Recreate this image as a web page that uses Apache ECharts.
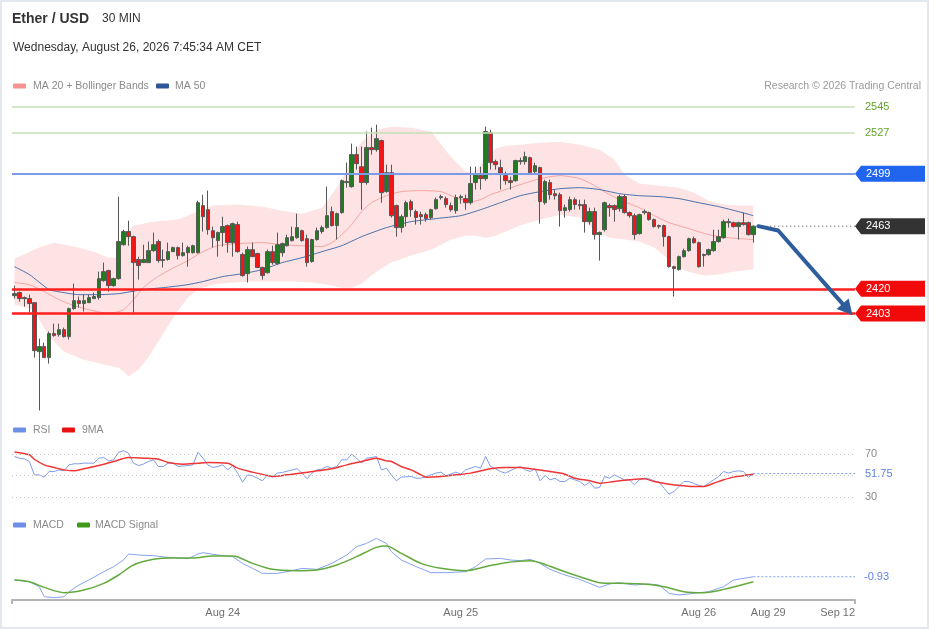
<!DOCTYPE html>
<html>
<head>
<meta charset="utf-8">
<script src="https://cdn.jsdelivr.net/npm/echarts@6/dist/echarts.min.js"></script>
<style>
html,body{margin:0;padding:0;background:#fff;}
#c{width:929px;height:629px;}
</style>
</head>
<body>
<div id="c"></div>
<script>
// ---------------- DATA ----------------
// 30-min candles: [open, close, low, high]
const candles = [
[2415.3,2416.7,2413.3,2422.2],[2417.4,2413.3,2411.2,2418.1],[2414.0,2413.3,2407.8,2414.7],[2413.3,2409.9,2403.7,2416.0],
[2410.5,2377.6,2372.8,2410.8],[2376.9,2380.4,2336.5,2385.8],[2380.4,2372.8,2372.5,2383.1],[2372.8,2389.3,2368.7,2390.7],
[2389.3,2387.9,2387.2,2396.1],[2388.6,2392.0,2387.2,2396.1],[2392.0,2387.2,2386.5,2393.4],[2387.2,2406.4,2385.2,2407.1],
[2406.4,2411.9,2405.7,2423.6],[2411.9,2409.9,2407.1,2414.7],[2409.9,2411.9,2404.4,2416.0],[2410.5,2414.0,2410.3,2416.0],
[2413.3,2414.7,2413.0,2417.4],[2414.0,2427.0,2412.6,2431.8],[2425.6,2431.8,2424.9,2438.0],[2432.5,2422.2,2418.1,2433.2],
[2422.2,2427.0,2421.5,2427.7],[2427.0,2452.4,2426.3,2483.3],[2450.3,2459.3,2449.6,2460.6],[2459.3,2455.8,2449.6,2466.8],
[2455.8,2438.0,2403.7,2456.5],[2440.1,2436.0,2426.3,2442.1],[2438.0,2440.1,2437.8,2450.3],[2438.0,2446.2,2437.8,2452.4],
[2446.2,2450.3,2445.5,2458.6],[2452.4,2439.4,2438.0,2453.8],[2440.1,2439.4,2434.6,2446.9],[2440.1,2445.5,2439.4,2451.7],
[2445.5,2448.3,2445.3,2449.0],[2448.3,2442.8,2440.1,2449.0],[2442.8,2444.8,2442.1,2451.7],[2444.8,2448.3,2435.2,2449.6],
[2444.8,2449.6,2444.2,2450.3],[2444.8,2479.1,2444.2,2480.5],[2477.1,2469.5,2459.3,2484.6],[2474.3,2460.6,2457.2,2487.4],
[2459.9,2455.1,2448.3,2462.7],[2453.1,2458.6,2442.1,2459.3],[2458.6,2462.7,2449.0,2469.5],[2463.4,2451.7,2444.8,2464.1],
[2451.7,2464.7,2442.1,2465.4],[2464.1,2445.5,2444.8,2466.1],[2443.5,2429.1,2428.4,2444.8],[2430.4,2446.9,2424.3,2449.0],
[2446.9,2442.1,2441.9,2451.7],[2444.2,2434.6,2434.4,2444.8],[2434.6,2429.1,2426.3,2435.2],[2431.1,2445.5,2430.4,2446.9],
[2445.5,2438.0,2436.6,2449.6],[2437.3,2450.3,2436.6,2458.6],[2444.8,2451.0,2442.1,2451.7],[2449.6,2455.1,2449.0,2457.2],
[2453.1,2455.8,2452.4,2462.7],[2455.1,2462.0,2454.4,2471.6],[2459.9,2453.1,2452.4,2460.6],[2454.4,2438.0,2435.2,2457.2],
[2438.7,2453.8,2438.0,2454.4],[2453.8,2459.9,2453.1,2462.0],[2459.3,2462.0,2457.9,2463.4],[2462.0,2470.2,2461.3,2490.1],
[2473.0,2463.4,2462.7,2476.4],[2463.4,2471.6,2453.8,2472.3],[2472.3,2494.2,2471.6,2495.0],[2492.9,2493.6,2489.4,2506.6],
[2490.1,2512.1,2489.4,2519.6],[2512.1,2505.9,2501.8,2517.6],[2503.8,2492.9,2474.3,2517.6],[2492.9,2516.9,2491.5,2527.9],
[2516.9,2515.5,2512.1,2530.6],[2515.5,2523.0,2514.1,2532.7],[2521.7,2486.0,2479.1,2522.4],[2486.7,2499.7,2486.0,2505.2],
[2499.7,2470.2,2468.9,2505.2],[2477.1,2462.0,2455.8,2477.8],[2462.0,2469.5,2458.6,2470.9],[2469.5,2479.1,2462.7,2480.5],
[2479.8,2474.3,2469.5,2481.2],[2473.0,2468.9,2464.1,2474.3],[2470.9,2469.5,2464.1,2473.0],[2470.9,2468.2,2466.1,2472.3],
[2468.9,2474.3,2467.5,2475.0],[2475.0,2481.2,2474.3,2482.6],[2483.3,2482.6,2481.2,2484.6],[2481.9,2477.8,2475.7,2483.3],
[2477.1,2474.3,2472.9,2479.1],[2473.7,2482.6,2471.6,2484.6],[2482.6,2483.3,2478.4,2484.6],[2481.9,2479.1,2474.3,2484.6],
[2479.1,2492.2,2477.8,2503.8],[2492.9,2499.0,2488.1,2503.8],[2497.7,2495.6,2488.1,2503.8],[2495.6,2527.9,2494.2,2531.3],
[2527.2,2506.6,2501.8,2529.2],[2507.3,2505.2,2501.8,2508.6],[2503.2,2499.0,2488.1,2508.6],[2497.7,2494.2,2491.5,2500.4],
[2494.2,2492.9,2488.1,2497.0],[2494.2,2508.0,2493.5,2508.6],[2507.3,2508.0,2505.2,2510.0],[2507.3,2510.7,2505.2,2514.1],
[2510.0,2499.7,2498.4,2510.7],[2500.4,2504.5,2498.4,2506.6],[2503.2,2479.8,2464.7,2503.8],[2479.1,2493.6,2477.8,2494.9],
[2492.9,2484.6,2481.2,2494.9],[2485.3,2483.9,2481.2,2488.1],[2484.6,2473.7,2462.7,2486.0],[2473.7,2475.7,2468.9,2477.8],
[2474.4,2481.2,2473.0,2483.3],[2481.2,2477.8,2474.4,2482.6],[2477.8,2477.1,2474.4,2481.2],[2477.8,2466.1,2458.6,2481.2],
[2466.1,2473.0,2464.1,2475.7],[2473.0,2457.2,2453.8,2475.7],[2457.2,2458.6,2439.4,2459.3],[2460.6,2479.1,2459.3,2479.8],
[2477.1,2475.7,2469.5,2478.4],[2477.1,2474.4,2466.1,2477.8],[2475.0,2483.3,2473.0,2484.6],[2483.3,2472.3,2471.6,2484.6],
[2472.3,2470.2,2468.9,2473.0],[2470.2,2457.2,2453.8,2471.6],[2457.9,2470.9,2457.2,2471.6],[2472.3,2473.0,2470.9,2474.4],
[2472.3,2467.5,2466.8,2473.0],[2467.5,2462.7,2462.0,2468.2],[2463.4,2462.7,2461.3,2464.1],[2463.4,2455.8,2449.0,2464.1],
[2455.8,2435.2,2434.6,2456.5],[2435.2,2433.9,2414.7,2435.9],[2433.2,2442.1,2432.5,2442.8],[2442.1,2446.2,2441.4,2447.6],
[2446.2,2454.4,2445.5,2455.1],[2454.4,2451.7,2451.0,2455.8],[2451.7,2435.2,2434.6,2452.4],[2443.5,2442.8,2435.2,2444.2],
[2443.5,2446.9,2442.8,2447.6],[2446.2,2452.4,2445.5,2460.6],[2452.4,2455.8,2451.7,2460.6],[2455.1,2466.1,2454.4,2467.5],
[2466.1,2465.4,2462.0,2468.2],[2465.4,2462.7,2462.0,2466.1],[2462.7,2465.4,2453.8,2466.1],[2465.4,2464.1,2463.4,2472.3],
[2465.4,2457.2,2456.5,2466.1],[2457.2,2463.0,2451.7,2463.4]
];

// Bollinger upper band (candle index, value)
const upperIdx = [0,5,8,12,16,19,21,22,24,28,33,37,40,45,50,55,58,62,64,66,68,70,73,76,80,84,88,91,93,95,97,99,102,106,110,114,118,121,123,126,130,134,137,140,143,146,149];
const upperVal = [2440.7,2448.3,2451.7,2449.0,2445.5,2441.4,2441.4,2455.1,2463.4,2466.1,2467.5,2473.0,2477.1,2477.8,2476.4,2473.0,2471.6,2475.7,2484.6,2494.9,2508.6,2521.0,2529.2,2531.3,2530.6,2527.8,2510.7,2500.4,2500.4,2510.0,2516.2,2518.2,2518.9,2520.3,2521.0,2518.9,2515.5,2508.6,2498.4,2492.2,2490.8,2489.4,2486.0,2480.5,2477.8,2477.1,2477.1];
// Bollinger lower band
const lowerIdx = [0,4,5,7,10,14,18,21,22,23,25,27,29,31,33,35,37,40,44,48,52,56,60,63,66,68,70,73,76,80,84,88,91,93,95,97,99,102,106,110,114,117,120,123,126,129,131,133,136,139,142,145,149];
const lowerVal = [2409.2,2405.7,2398.9,2387.2,2376.9,2371.4,2368.0,2365.9,2363.2,2359.8,2364.6,2372.8,2383.8,2394.8,2405.1,2414.0,2419.5,2422.9,2424.3,2425.0,2425.0,2425.0,2424.3,2422.9,2420.8,2420.8,2423.6,2431.8,2438.0,2442.8,2446.9,2453.8,2456.5,2456.5,2455.1,2456.5,2459.2,2463.4,2467.5,2470.9,2468.9,2460.6,2455.1,2453.8,2452.4,2448.3,2442.8,2435.9,2431.8,2429.1,2429.8,2431.8,2433.2];
// MA 20
const ma20Idx = [0,3,6,9,12,15,18,20,22,24,26,28,31,35,38,41,45,50,54,58,62,64,66,68,70,72,75,78,82,86,89,92,94,96,99,102,106,110,114,117,120,123,126,129,132,136,140,144,149];
const ma20Val = [2424.3,2422.9,2418.1,2412.6,2408.5,2405.7,2403.7,2403.7,2405.7,2412.6,2420.8,2426.3,2432.5,2439.4,2445.5,2449.6,2451.0,2451.7,2450.3,2449.6,2449.0,2451.7,2457.2,2464.1,2473.0,2479.1,2483.9,2486.7,2487.4,2486.7,2482.6,2479.8,2481.2,2484.6,2488.1,2491.5,2495.6,2497.7,2495.6,2490.8,2484.6,2479.8,2475.7,2470.2,2465.4,2461.3,2457.2,2455.1,2453.8];
// MA 50
const ma50Idx = [0,3,7,10,13,17,21,26,30,35,38,42,46,50,54,58,62,66,70,75,80,85,90,94,98,102,106,110,114,118,122,126,130,134,138,142,146,149];
const ma50Val = [2435.2,2429.8,2419.5,2417.4,2416.0,2416.0,2416.7,2419.5,2420.8,2422.9,2425.0,2428.4,2430.4,2433.2,2438.0,2441.4,2445.5,2449.6,2455.8,2462.0,2466.1,2468.2,2470.2,2474.3,2479.1,2483.9,2486.7,2488.7,2489.4,2488.1,2485.3,2483.9,2483.3,2481.9,2479.1,2476.4,2473.0,2470.2];

// RSI and its 9-period MA
const rsiIdx = [0,1,2,3,4,5,6,7,8,9,10,11,12,13,14,16,17,18,19,20,21,22,23,24,25,26,27,28,29,30,31,32,33,35,36,37,38,39,40,41,42,43,44,45,46,47,48,49,50,51,52,53,54,56,57,58,59,60,61,62,63,64,65,66,67,68,69,70,71,72,73,74,75,76,77,78,80,81,82,83,85,86,87,89,90,91,93,94,95,96,97,98,99,101,102,103,104,105,106,107,108,109,110,111,112,113,114,115,116,117,118,119,120,121,123,124,125,126,127,128,129,130,131,132,133,134,135,136,138,139,140,141,142,143,144,145,146,147,148,149];
const rsiVal = [67.5,66.0,65.4,62.9,50.6,50.6,48.5,53.7,53.7,55.2,54.3,59.8,60.8,60.8,61.4,61.4,66.0,66.5,63.5,64.5,71.5,72.8,70.6,61.4,59.2,60.5,62.9,64.5,58.3,58.3,61.4,61.4,58.3,59.2,59.8,71.5,66.0,59.8,57.4,58.3,59.8,55.2,59.2,52.2,43.8,50.6,49.7,47.5,45.1,50.6,48.5,52.2,52.8,55.2,56.2,52.2,46.9,52.2,55.2,55.8,58.3,56.8,58.3,64.5,64.5,69.7,66.0,61.4,66.0,66.6,67.5,55.2,56.8,50.6,45.1,48.5,49.1,47.5,47.5,49.1,52.2,53.1,49.7,53.1,51.2,55.2,58.3,56.8,67.5,58.3,56.2,53.7,52.2,56.8,58.3,55.2,53.7,56.2,45.1,50.0,46.0,47.5,44.5,44.5,47.5,46.0,44.5,40.8,43.8,38.3,38.9,49.1,47.5,50.6,46.0,46.0,41.4,46.0,47.5,46.9,45.1,43.8,38.3,32.8,35.2,39.8,44.5,44.5,40.8,39.8,42.9,46.0,49.1,53.7,52.2,53.7,54.3,53.7,48.2,51.75];
const rsiMaIdx = [0,3,4,6,8,10,12,14,17,20,23,26,29,31,34,37,39,43,45,48,51,52,55,58,61,64,67,70,73,75,76,78,80,82,83,86,89,92,96,99,102,104,108,111,113,116,118,121,124,127,129,132,135,137,139,141,143,145,149];
const rsiMaVal = [71.8,69.1,65.0,59.8,57.4,55.2,54.3,56.2,59.2,62.9,66.6,66.0,65.1,62.0,60.5,61.4,62.0,61.4,56.8,53.1,50.0,49.1,50.6,52.2,54.3,56.2,59.8,62.9,66.0,63.5,62.9,58.3,55.2,50.6,48.5,49.1,50.6,52.2,56.2,57.4,57.4,56.2,53.7,51.2,47.5,45.1,42.9,44.5,46.0,46.9,44.5,42.0,40.5,39.8,39.8,42.9,46.0,48.5,51.2];

// MACD and signal
const macdIdx = [0,3,5,6,8,10,11,13,15,18,20,22,23,25,28,31,35,37,38,41,44,46,48,50,53,56,58,61,64,67,69,71,73,75,76,78,81,84,87,91,93,95,98,100,102,104,106,108,111,114,116,118,120,122,125,128,130,132,134,137,140,143,145,149];
const macdVal = [-1.76,-2.17,-3.42,-5.92,-6.17,-5.92,-4.67,-3.0,-1.76,0.33,1.58,3.25,4.75,4.5,4.33,3.9,3.58,4.75,5.08,4.5,4.08,2.41,1.16,-0.09,-0.09,0.58,1.16,0.91,2.41,4.5,6.58,7.41,8.66,7.41,5.33,3.25,1.58,0.08,0.08,0.33,1.58,3.5,3.66,3.25,3.08,3.41,2.41,0.91,-0.5,-1.59,-2.59,-3.59,-2.75,-2.42,-3.0,-2.75,-3.0,-5.09,-5.5,-5.09,-4.67,-3.42,-1.76,-0.93];
const sigIdx = [0,3,6,10,14,18,21,24,28,32,36,40,44,48,52,57,61,65,69,73,75,78,82,86,91,95,99,104,106,110,114,118,122,127,131,135,139,143,149];
const sigVal = [-1.76,-2.17,-3.59,-4.92,-4.25,-2.59,-0.5,1.99,3.41,3.75,3.75,4.25,4.25,2.41,0.91,0.58,0.75,1.99,4.08,6.41,6.75,4.91,2.41,1.16,0.58,1.58,2.58,3.08,2.58,0.75,-0.92,-2.42,-2.59,-2.75,-3.42,-4.67,-4.92,-4.09,-2.17];

// Levels and annotations
const resistGreen = [2545, 2527];
const resistBlue = 2499;
const lastPrice = 2463;
const supportRed = [2420, 2403];
const rsiGuides = [70, 50, 30];
const rsiLast = 51.75;
const macdLast = -0.93;
const arrowPath = [[150, 2463], [154, 2460], [169, 2402]];

// X axis slots (30-min) and tick labels
const SLOTS = 170;
const tickLabels = [[42, 'Aug 24'], [90, 'Aug 25'], [138, 'Aug 26'], [152, 'Aug 29'], [166, 'Sep 12']];

// ---------------- CHART ----------------
const FONT = '"Liberation Sans", Arial, Helvetica, sans-serif';
const categories = Array.from({length: SLOTS}, (_, i) => 's' + i);
const tickMap = new Map(tickLabels);
const pairs = (idx, vals) => idx.map((ix, k) => [ix, vals[k]]);

const chart = echarts.init(document.getElementById('c'), null, {renderer: 'canvas'});

const gridL = 12, gridW = 843;
const option = {
  animation: false,
  backgroundColor: '#fff',
  grid: [
    {left: gridL, width: gridW, top: 95, height: 325},
    {left: gridL, width: gridW, top: 443, height: 65},
    {left: gridL, width: gridW, top: 530, height: 70}
  ],
  xAxis: [0, 1, 2].map(g => ({
    type: 'category', gridIndex: g, data: categories, boundaryGap: true,
    show: g === 2,
    axisLine: {show: true, onZero: false, lineStyle: {color: '#b5b5b5', width: 2}},
    axisTick: {show: false},
    splitLine: {show: false},
    axisLabel: {
      show: g === 2,
      interval: (i) => tickMap.has(i),
      formatter: (v, i) => tickMap.get(i) || '',
      color: '#707070', fontSize: 11, fontFamily: FONT, margin: 7
    }
  })),
  yAxis: [
    {gridIndex: 0, type: 'value', min: 2330, max: 2553, show: false},
    {gridIndex: 1, type: 'value', min: 20, max: 80, show: false},
    {gridIndex: 2, type: 'value', min: -6.75, max: 10.75, show: false}
  ],
  series: [
    {
      type: 'custom', name: 'Bollinger', xAxisIndex: 0, yAxisIndex: 0, silent: true, z: 1,
      data: [[0, upperVal[0]]],
      renderItem: (params, api) => {
        const up = upperIdx.map((ix, k) => api.coord([ix, upperVal[k]]));
        const lo = lowerIdx.map((ix, k) => api.coord([ix, lowerVal[k]])).reverse();
        return {type: 'polygon', shape: {points: up.concat(lo)}, style: {fill: '#fde3e3'}};
      }
    },
    {
      type: 'line', name: 'MA 20', xAxisIndex: 0, yAxisIndex: 0, z: 2, silent: true,
      data: pairs(ma20Idx, ma20Val), symbol: 'none', smooth: 0.2,
      lineStyle: {color: '#f5a3a3', width: 1}
    },
    {
      type: 'line', name: 'MA 50', xAxisIndex: 0, yAxisIndex: 0, z: 2, silent: true,
      data: pairs(ma50Idx, ma50Val), symbol: 'none', smooth: 0.2,
      lineStyle: {color: '#4a6fab', width: 1},
      markLine: {
        silent: true, symbol: ['none', 'none'], label: {show: false},
        data: [
          ...resistGreen.map(v => ({yAxis: v, lineStyle: {color: '#c6e1b4', width: 1.5, type: 'solid'}})),
          {yAxis: resistBlue, lineStyle: {color: '#7d9be6', width: 2, type: 'solid'}},
          ...supportRed.map(v => ({yAxis: v, lineStyle: {color: '#ff1f1f', width: 2.5, type: 'solid'}}))
        ]
      }
    },
    {
      type: 'candlestick', name: 'Ether / USD', xAxisIndex: 0, yAxisIndex: 0, z: 3,
      data: candles, barWidth: 4,
      itemStyle: {color: '#1f7d1f', color0: '#f21515', borderColor: '#575757', borderColor0: '#575757', borderWidth: 1}
    },
    {
      type: 'line', name: 'RSI', xAxisIndex: 1, yAxisIndex: 1, z: 3, silent: true,
      data: pairs(rsiIdx, rsiVal), symbol: 'none',
      lineStyle: {color: '#7e9de9', width: 1},
      markLine: {
        silent: true, symbol: ['none', 'none'], label: {show: false},
        lineStyle: {color: '#c4c4c4', width: 1, type: [1, 3]},
        data: rsiGuides.map(v => ({yAxis: v}))
      }
    },
    {
      type: 'line', name: '9MA', xAxisIndex: 1, yAxisIndex: 1, z: 4, silent: true,
      data: pairs(rsiMaIdx, rsiMaVal), symbol: 'none', smooth: 0.3,
      lineStyle: {color: '#ef3535', width: 1.5}
    },
    {
      type: 'line', name: 'MACD', xAxisIndex: 2, yAxisIndex: 2, z: 3, silent: true,
      data: pairs(macdIdx, macdVal), symbol: 'none',
      lineStyle: {color: '#86a3ec', width: 1}
    },
    {
      type: 'line', name: 'MACD Signal', xAxisIndex: 2, yAxisIndex: 2, z: 4, silent: true,
      data: pairs(sigIdx, sigVal), symbol: 'none', smooth: 0.3,
      lineStyle: {color: '#63aa3c', width: 1.5}
    }
  ]
};
chart.setOption(option);

// ---------------- ANNOTATIONS (positions from the chart's own scales) ----------------
const py = (axis, v) => chart.convertToPixel({yAxisIndex: axis}, v);
const pxy = (g, pt) => chart.convertToPixel({gridIndex: g}, pt);
const rightX = gridL + gridW;
const labelX = rightX + 10;
const g = [];
const txt = (x, y, text, font, fill, align) => ({
  type: 'text', x, y, z: 100, silent: true,
  style: {text, font, fill, align: align || 'left', verticalAlign: 'middle'}
});
const icon = (x, y, color) => ({type: 'rect', z: 100, silent: true, shape: {x, y: y - 2.5, width: 13, height: 5, r: 1}, style: {fill: color}});

// frame
g.push({type: 'rect', z: 90, silent: true, shape: {x: 1, y: 1, width: 927, height: 627}, style: {fill: 'none', stroke: '#e3e8ee', lineWidth: 2}});
// header
g.push(txt(12, 19, 'Ether / USD', `bold 14px ${FONT}`, '#333'));
g.push(txt(102, 19, '30 MIN', `12px ${FONT}`, '#333'));
g.push(txt(13, 48, 'Wednesday, August 26, 2026 7:45:34 AM CET', `12px ${FONT}`, '#333'));
// main legend
g.push(icon(13, 86, '#f79292'));
g.push(txt(33, 86, 'MA 20 + Bollinger Bands', `10.5px ${FONT}`, '#8a8a8a'));
g.push(icon(156, 86, '#2f5597'));
g.push(txt(175, 86, 'MA 50', `10.5px ${FONT}`, '#8a8a8a'));
g.push(txt(921, 86, 'Research \u00a9 2026 Trading Central', `10.5px ${FONT}`, '#9a9a9a', 'right'));
// RSI legend
g.push(icon(13, 430, '#6e8fe6'));
g.push(txt(33, 430, 'RSI', `10.5px ${FONT}`, '#8a8a8a'));
g.push(icon(62, 430, '#e81010'));
g.push(txt(82, 430, '9MA', `10.5px ${FONT}`, '#8a8a8a'));
// MACD legend
g.push(icon(13, 525, '#6e8fe6'));
g.push(txt(33, 525, 'MACD', `10.5px ${FONT}`, '#8a8a8a'));
g.push(icon(77, 525, '#3f9a18'));
g.push(txt(95, 525, 'MACD Signal', `10.5px ${FONT}`, '#8a8a8a'));

// right-hand level labels
resistGreen.forEach(v => g.push(txt(labelX, py(0, v), String(v), `11px ${FONT}`, '#62a32a')));
const tag = (v, color) => {
  const y = py(0, v);
  g.push({type: 'polygon', z: 100, silent: true,
    shape: {points: [[rightX, y], [rightX + 6, y - 8], [925, y - 8], [925, y + 8], [rightX + 6, y + 8]]},
    style: {fill: color}});
  g.push(txt(labelX + 1, y, String(v), `11px ${FONT}`, '#fff'));
};
tag(resistBlue, '#2165ee');
tag(lastPrice, '#333333');
supportRed.forEach(v => tag(v, '#f20a0a'));

// dotted last-price line
const lastPt = pxy(0, [arrowPath[0][0], lastPrice]);
g.push({type: 'line', z: 95, silent: true, shape: {x1: lastPt[0], y1: lastPt[1], x2: rightX, y2: lastPt[1]},
  style: {stroke: '#444', lineWidth: 1, lineDash: [1, 3]}});

// projection arrow
const ap = arrowPath.map(p => pxy(0, p));
const tip = ap[ap.length - 1], prev = ap[ap.length - 2];
const dx = tip[0] - prev[0], dy = tip[1] - prev[1], len = Math.hypot(dx, dy);
const ux = dx / len, uy = dy / len, L = 15, W = 8;
const bx = tip[0] - ux * L, by = tip[1] - uy * L;
g.push({type: 'polyline', z: 96, silent: true,
  shape: {points: ap.slice(0, -1).concat([[bx + ux * 2, by + uy * 2]])},
  style: {stroke: '#2e5d9c', lineWidth: 4, lineJoin: 'round', lineCap: 'round', fill: null}});
g.push({type: 'polygon', z: 96, silent: true,
  shape: {points: [tip, [bx - uy * W, by + ux * W], [bx + uy * W, by - ux * W]]},
  style: {fill: '#2e5d9c'}});

// RSI labels & current value extension
g.push(txt(labelX, py(1, 70), '70', `11px ${FONT}`, '#8a8a8a'));
g.push(txt(labelX, py(1, 30), '30', `11px ${FONT}`, '#8a8a8a'));
const rsiEnd = pxy(1, [rsiIdx[rsiIdx.length - 1], rsiLast]);
g.push({type: 'line', z: 95, silent: true, shape: {x1: rsiEnd[0], y1: rsiEnd[1], x2: rightX, y2: rsiEnd[1]},
  style: {stroke: '#7e9de9', lineWidth: 1, lineDash: [2, 2]}});
g.push(txt(labelX, rsiEnd[1], String(rsiLast), `11px ${FONT}`, '#5f82e2'));

// MACD current value extension
const macdEnd = pxy(2, [macdIdx[macdIdx.length - 1], macdLast]);
g.push({type: 'line', z: 95, silent: true, shape: {x1: macdEnd[0], y1: macdEnd[1], x2: rightX, y2: macdEnd[1]},
  style: {stroke: '#7e9de9', lineWidth: 1, lineDash: [2, 2]}});
g.push(txt(labelX - 1, macdEnd[1], String(macdLast), `11px ${FONT}`, '#5f82e2'));

// x-axis end ticks
const axisY = 600;
[gridL, rightX].forEach(x => g.push({type: 'line', z: 95, silent: true,
  shape: {x1: x, y1: axisY, x2: x, y2: axisY + 4}, style: {stroke: '#b5b5b5', lineWidth: 2}}));

chart.setOption({graphic: g});
</script>
</body>
</html>
